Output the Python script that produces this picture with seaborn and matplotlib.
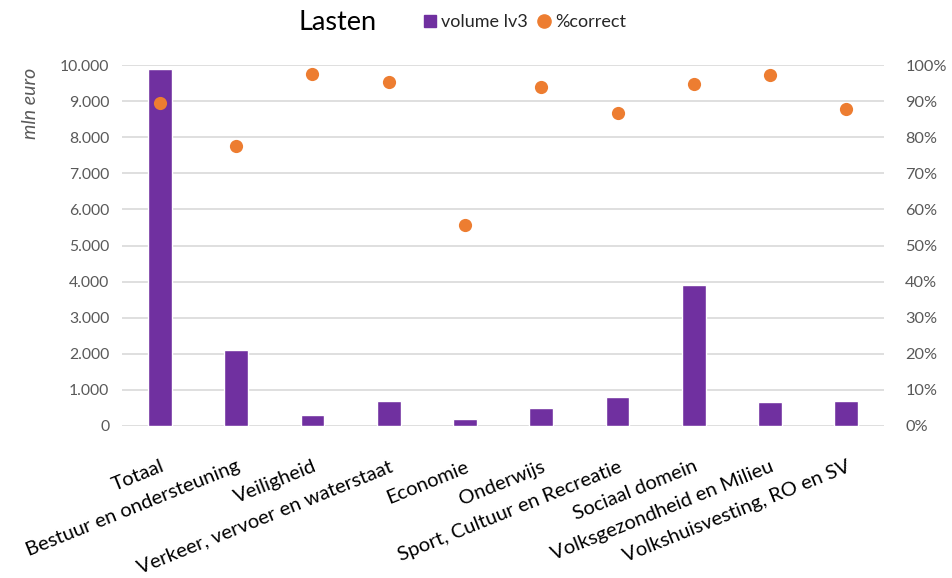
import matplotlib
matplotlib.use("Agg")
import matplotlib.pyplot as plt
import seaborn as sns
import pandas as pd
from matplotlib.lines import Line2D

categories = ["Totaal", "Bestuur en ondersteuning", "Veiligheid",
              "Verkeer, vervoer en waterstaat", "Economie", "Onderwijs",
              "Sport, Cultuur en Recreatie", "Sociaal domein",
              "Volksgezondheid en Milieu", "Volkshuisvesting, RO en SV"]
volume = [9900, 2100, 300, 700, 185, 490, 795, 3900, 665, 700]
pct_correct = [0.896, 0.776, 0.974, 0.953, 0.557, 0.940, 0.868, 0.947, 0.971, 0.879]

left_ticks = [0, 1000, 2000, 3000, 4000, 5000, 6000, 7000, 8000, 9000, 10000]
left_labels = ["0", "1.000", "2.000", "3.000", "4.000", "5.000", "6.000",
               "7.000", "8.000", "9.000", "10.000"]
right_ticks = [0, 0.1, 0.2, 0.3, 0.4, 0.5, 0.6, 0.7, 0.8, 0.9, 1.0]
right_labels = ["0%", "10%", "20%", "30%", "40%", "50%", "60%", "70%",
                "80%", "90%", "100%"]

sns.set_theme(style="white")
plt.rcParams['font.family'] = ['Lato', 'DejaVu Sans']

PURPLE = "#7030A0"
ORANGE = "#ED7D31"
GRID = "#D9D9D9"
TXT = "#595959"

df = pd.DataFrame({"cat": categories, "volume": volume, "pct": pct_correct})

fig = plt.figure(figsize=(9.52, 5.78), dpi=100)
ax = fig.add_axes([0.128, 0.263, 0.801, 0.6245])
sns.barplot(data=df, x="cat", y="volume", color=PURPLE, width=0.31,
            saturation=1, ax=ax, zorder=2)
ax.set_ylim(0, 10000)
ax.set_xlim(-0.5, len(categories) - 0.5)
ax.set_yticks(left_ticks)
ax.set_yticklabels(left_labels)
ax.yaxis.grid(True, color=GRID, linewidth=1.2)
ax.set_axisbelow(True)
for s in ax.spines.values():
    s.set_visible(False)
ax.set_xlabel("")
ax.set_ylabel("")
ax.tick_params(axis='y', length=0, pad=9, labelsize=11.3, labelcolor=TXT)
ax.tick_params(axis='x', length=0, pad=23, labelsize=14.5, labelcolor="#000000")
for lab in ax.get_xticklabels():
    lab.set_rotation(22)
    lab.set_ha("right")
    lab.set_rotation_mode("anchor")

ax2 = ax.twinx()
sns.stripplot(data=df, x="cat", y="pct", color=ORANGE, jitter=False, size=9.5,
              ax=ax2, zorder=3, linewidth=0)
ax2.set_ylim(0, 1.0)
ax2.set_xlim(-0.5, len(categories) - 0.5)
ax2.set_yticks(right_ticks)
ax2.set_yticklabels(right_labels)
ax2.tick_params(axis='y', length=0, pad=15, labelsize=11.8, labelcolor=TXT)
ax2.set_ylabel("")
ax2.set_xlabel("")
for s in ax2.spines.values():
    s.set_visible(False)

fig.text(0.032, 1 - 103 / 578, "mln euro", rotation=90, style="italic",
         ha="center", va="center", fontsize=14, color=TXT)
fig.text(0.355, 1 - 22 / 578, "Lasten", ha="center", va="center",
         fontsize=19.5, color="#000000")

handles = [Line2D([0], [0], marker="s", color="none", markerfacecolor=PURPLE,
                  markeredgecolor=PURPLE, markersize=8, label="volume lv3"),
           Line2D([0], [0], marker="o", color="none", markerfacecolor=ORANGE,
                  markeredgecolor=ORANGE, markersize=9.5, label="%correct")]
fig.legend(handles=handles, loc="center left", bbox_to_anchor=(0.437, 1 - 22 / 578),
           ncol=2, frameon=False, fontsize=13, handlelength=0.6,
           handletextpad=0.3, columnspacing=0.6, borderpad=0)

fig.savefig("out.png", dpi=100)
